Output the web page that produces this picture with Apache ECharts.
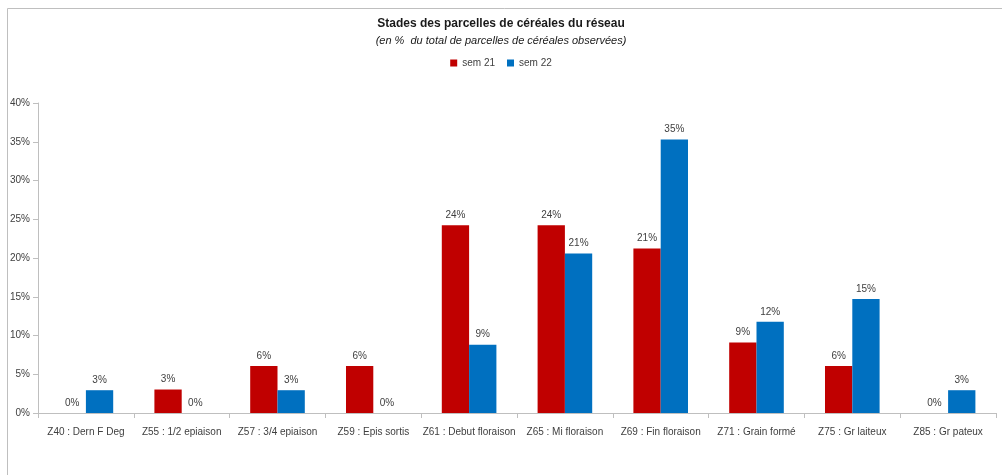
<!DOCTYPE html>
<html><head><meta charset="utf-8">
<script src="https://cdn.jsdelivr.net/npm/echarts@6/dist/echarts.min.js"></script>
<style>html,body{margin:0;padding:0;background:#fff}#c{width:1002px;height:475px}</style>
</head><body><div id="c"></div>
<script>
const categories = ["Z40 : Dern F Deg","Z55 : 1/2 epiaison","Z57 : 3/4 epiaison","Z59 : Epis sortis","Z61 : Debut floraison","Z65 : Mi floraison","Z69 : Fin floraison","Z71 : Grain formé","Z75 : Gr laiteux","Z85 : Gr pateux"];
const sem21 = [0, 3.03, 6.06, 6.06, 24.24, 24.24, 21.21, 9.09, 6.06, 0];
const sem22 = [2.94, 0, 2.94, 0, 8.82, 20.59, 35.29, 11.76, 14.71, 2.94];
const seriesNames = ["sem 21","sem 22"];
const chart = echarts.init(document.getElementById('c'));
const font = "'Liberation Sans', Arial, sans-serif";
const lbl = {show:true, position:'top', distance:5, color:'#404040', fontSize:10, fontFamily:font, formatter: p => Math.round(p.value) + '%'};
chart.setOption({
  animation:false,
  textStyle:{fontFamily:font},
  title:{text:'Stades des parcelles de céréales du réseau', subtext:'(en %  du total de parcelles de céréales observées)', left:'center', top:13, itemGap:5,
    textStyle:{fontSize:12, fontWeight:'bold', color:'#1a1a1a', fontFamily:font},
    subtextStyle:{fontSize:11, fontStyle:'italic', color:'#1a1a1a', fontFamily:font}},
  legend:{data:seriesNames, top:53, left:'center', itemWidth:7, itemHeight:7, itemGap:12, icon:'rect', textStyle:{fontSize:10, color:'#404040', fontFamily:font}},
  graphic:[
    {type:'line', shape:{x1:7.5, y1:8.5, x2:1002, y2:8.5}, style:{stroke:'#bfbfbf', lineWidth:1}, silent:true},
    {type:'line', shape:{x1:7.5, y1:8.5, x2:7.5, y2:475}, style:{stroke:'#bfbfbf', lineWidth:1}, silent:true}
  ],
  grid:{left:38, right:6, top:103, bottom:62},
  xAxis:{type:'category', data:categories,
    axisLine:{lineStyle:{color:'#bfbfbf'}},
    axisTick:{show:true, alignWithLabel:false, length:5, lineStyle:{color:'#bfbfbf'}},
    axisLabel:{color:'#404040', fontSize:10, margin:14, interval:0}},
  yAxis:{type:'value', min:0, max:40, interval:5,
    axisLine:{show:true, lineStyle:{color:'#bfbfbf'}},
    axisTick:{show:true, length:5, lineStyle:{color:'#bfbfbf'}},
    splitLine:{show:false},
    axisLabel:{color:'#404040', fontSize:10, margin:8, formatter: v => v + '%'}},
  series:[
    {name:seriesNames[0], type:'bar', data:sem21, barGap:'0%', barCategoryGap:'43%', itemStyle:{color:'#c00000'}, label:lbl},
    {name:seriesNames[1], type:'bar', data:sem22, itemStyle:{color:'#0070c0'}, label:lbl}
  ]
});
</script></body></html>
